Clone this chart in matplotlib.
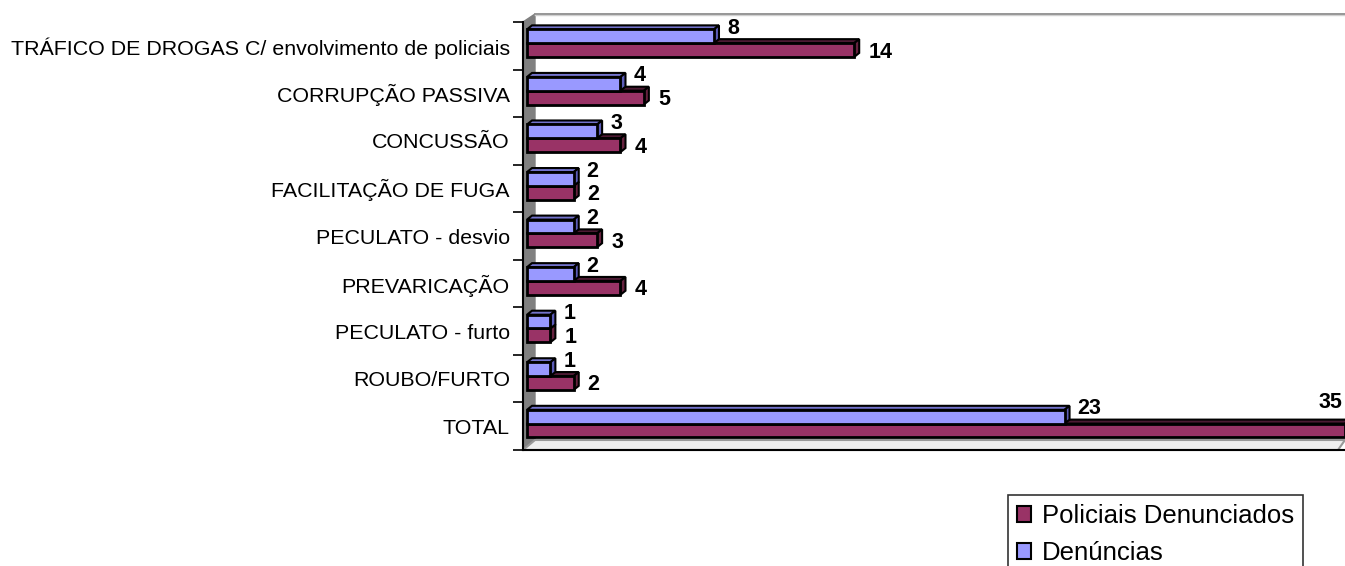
import matplotlib
matplotlib.use("Agg")
import matplotlib.pyplot as plt
from matplotlib.patches import Patch

plt.rcParams['font.family'] = ['Liberation Sans', 'DejaVu Sans']

categorias = ["TRÁFICO DE DROGAS C/ envolvimento de policiais",
              "CORRUPÇÃO PASSIVA",
              "CONCUSSÃO",
              "FACILITAÇÃO DE FUGA",
              "PECULATO - desvio",
              "PREVARICAÇÃO",
              "PECULATO - furto",
              "ROUBO/FURTO",
              "TOTAL"]
denuncias = [8, 4, 3, 2, 2, 2, 1, 1, 23]
policiais = [14, 5, 4, 2, 3, 4, 1, 2, 35]

azul, azul_top, azul_lado = "#9999FF", "#7373CC", "#5C5CB8"
verm, verm_top, verm_lado = "#993366", "#4D1A33", "#66223F"

W, H = 1345, 566
fig = plt.figure(figsize=(W / 100, H / 100), dpi=100)
px0 = 523
ax = fig.add_axes([px0 / W, 1 - 450 / H, (W - px0) / W, (450 - 22) / H])
upx = (W - 527) / 35.0          # pixels per unit
xmin = -4 / upx
ax.set_xlim(xmin, 35)
ax.set_ylim(9, 0)

rowpx = (450 - 22) / 9
dx = 5 / upx
dy = 4 / rowpx
h = 0.29


def barra3d(yc, v, cor, top, lado):
    y0 = yc - h / 2
    y1 = yc + h / 2
    ax.fill([0, v, v + dx, dx], [y0, y0, y0 - dy, y0 - dy], color=top,
            ec="black", lw=1.5, zorder=3, clip_on=False)
    ax.fill([v, v + dx, v + dx, v], [y0, y0 - dy, y1 - dy, y1], color=lado,
            ec="black", lw=1.5, zorder=3, clip_on=False)
    ax.barh(yc, v, height=h, left=0, color=cor, edgecolor="black", lw=2,
            zorder=4, clip_on=False)


# parede e chao
ax.fill([xmin, 12 / upx + xmin, 12 / upx + xmin, xmin],
        [0, -8 / rowpx, 9 - 8 / rowpx, 9], color="#808080", zorder=1,
        clip_on=False)
ax.plot([12 / upx + xmin, 35], [-8 / rowpx, -8 / rowpx], color="#8C8C8C",
        lw=2, zorder=1, clip_on=False)
ax.plot([12 / upx + xmin, 35], [-7 / rowpx, -7 / rowpx], color="#D0D0D0",
        lw=1, zorder=1, clip_on=False)
ax.fill([12 / upx + xmin, 35, 35 - 0.3, xmin], [9 - 10 / rowpx, 9 - 10 / rowpx, 9, 9],
        color="#EEEEEE", ec="#999999", lw=1.5, zorder=1, clip_on=False)

for i, (d, p) in enumerate(zip(denuncias, policiais)):
    c = i + 0.5
    barra3d(c + 0.09, p, verm, verm_top, verm_lado)
    barra3d(c - 0.2, d, azul, azul_top, azul_lado)
    # rotulos
    ax.annotate(str(d), (d + dx, c - 0.2 - h / 2), xytext=(8, 1),
                textcoords="offset pixels", ha="left", va="center",
                fontsize=15.5, fontweight="bold", zorder=6)
    if p == max(policiais):
        ax.annotate(str(p), (p, c - 0.2 - h / 2), xytext=(-3, 7),
                    textcoords="offset pixels", ha="right", va="center",
                    fontsize=15.5, fontweight="bold", zorder=6)
    else:
        ax.annotate(str(p), (p + dx, c + 0.09), xytext=(9, -2),
                    textcoords="offset pixels", ha="left", va="center",
                    fontsize=15.5, fontweight="bold", zorder=6)

for s in ["top", "right"]:
    ax.spines[s].set_visible(False)
ax.spines["left"].set_linewidth(1.5)
ax.spines["bottom"].set_linewidth(1.5)
ax.spines["left"].set_zorder(5)
ax.spines["bottom"].set_zorder(5)
ax.set_xticks([])
ax.set_yticks(range(10))
ax.set_yticklabels([])
ax.tick_params(axis="y", which="major", length=7.2, width=1.2)
ax.set_yticks([i + 0.5 for i in range(9)], minor=True)
ax.set_yticklabels(categorias, minor=True, fontsize=15.4)
ax.tick_params(axis="y", which="minor", length=0, pad=9.5)

handles = [Patch(fc=verm, ec="black", lw=1.5), Patch(fc=azul, ec="black", lw=1.5)]
leg = fig.legend(handles, ["Policiais Denunciados", "Denúncias"],
                 loc="upper left", bbox_to_anchor=(1008 / W, 1 - 495 / H),
                 fontsize=18.5, frameon=True, fancybox=False, edgecolor="black",
                 handlelength=0.56, handleheight=0.56, handletextpad=0.4,
                 borderpad=0.35, labelspacing=0.5, borderaxespad=0)
leg.get_frame().set_linewidth(1.2)

fig.savefig("out.png", dpi=100, facecolor="white")
